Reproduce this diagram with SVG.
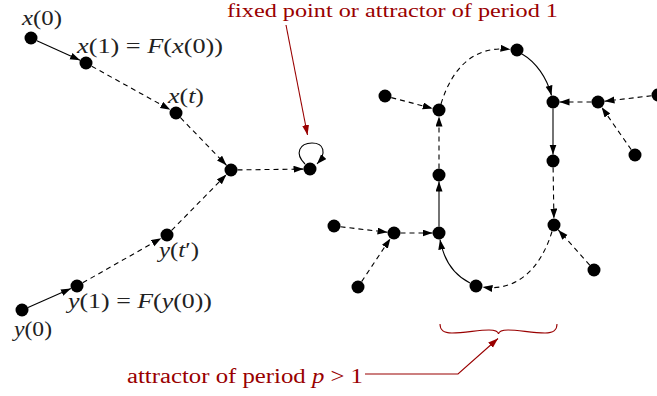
<svg xmlns="http://www.w3.org/2000/svg" width="657" height="396" viewBox="0 0 657 396">
<style>
.n{fill:#000}
.e{fill:none;stroke:#000;stroke-width:1.1;marker-end:url(#ah)}
.d{stroke-dasharray:5 4}
.r{fill:none;stroke:#990000;stroke-width:1.1}
.t{font-family:"Liberation Serif","DejaVu Serif",serif;font-size:20px;fill:#222}
.rt{font-family:"Liberation Serif","DejaVu Serif",serif;font-size:20px;fill:#990000}
.i{font-style:italic}
</style>
<defs>
<marker id="ah" markerUnits="userSpaceOnUse" markerWidth="11" markerHeight="8" refX="10" refY="3.5" orient="auto"><path d="M0,0 L10,3.5 L0,7 z" fill="#000"/></marker>
<marker id="rh" markerUnits="userSpaceOnUse" markerWidth="11" markerHeight="8" refX="10" refY="3.5" orient="auto"><path d="M0,0 L10,3.5 L0,7 z" fill="#990000"/></marker>
</defs>
<g id="connectors">
<path class="e" d="M36.9,40.7 L80.1,60.3"/>
<path class="e d" d="M91.7,66.2 L170.3,109.8"/>
<path class="e d" d="M180.5,117.7 L226.5,165.3"/>
<path class="e d" d="M171.6,230.4 L226.4,174.6"/>
<path class="e" d="M28,307.4 L71,288.6"/>
<path class="e d" d="M82.7,282.8 L161.3,238.2"/>
<path class="e d" d="M237.5,169.9 L303.5,169.1"/>
<path class="e" d="M305,164 C294,153 300,143 312,143 C324,143 327,153 317,164"/>
<path class="e d" d="M391.3,97.6 L432.7,108.4"/>
<path class="e d" d="M439,168.5 L439,116.5"/>
<path class="e" d="M439,226.5 L439,181.5"/>
<path class="e d" d="M441,104 C452,68 474,45 510.5,49.5"/>
<path class="e" d="M522,54 C536,62 547,78 551.5,95.5"/>
<path class="e" d="M553,108.5 L553,154.5"/>
<path class="e d" d="M591.5,102 L559.5,102"/>
<path class="e d" d="M651.5,95.8 L604.5,101.2"/>
<path class="e d" d="M631.3,149.7 L601.7,107.3"/>
<path class="e d" d="M553.1,167.5 L553.9,218.5"/>
<path class="e d" d="M589.7,265.1 L558.3,229.9"/>
<path class="e d" d="M552,231.5 C541,268 517,292 482.5,287"/>
<path class="e" d="M470,283 C456,276 444,262 440,239.5"/>
<path class="e d" d="M340.5,226.8 L387.5,232.2"/>
<path class="e d" d="M361.6,281.6 L390.4,238.4"/>
<path class="e d" d="M400.5,233 L432.5,233"/>
</g>
<g id="left-nodes">
<circle id="x0" class="n" cx="31" cy="38" r="6.5"/>
<circle id="x1" class="n" cx="86" cy="63" r="6.5"/>
<circle id="xt" class="n" cx="176" cy="113" r="6.5"/>
<circle id="junction" class="n" cx="231" cy="170" r="6.5"/>
<circle id="fixed" class="n" cx="310" cy="169" r="6.5"/>
<circle id="yt" class="n" cx="167" cy="235" r="6.5"/>
<circle id="y1" class="n" cx="77" cy="286" r="6.5"/>
<circle id="y0" class="n" cx="22" cy="310" r="6.5"/>
</g>
<g id="right-nodes">
<circle id="r1" class="n" cx="385" cy="96" r="6.5"/>
<circle id="r2" class="n" cx="439" cy="110" r="6.5"/>
<circle id="r3" class="n" cx="517" cy="50" r="6.5"/>
<circle id="r4" class="n" cx="553" cy="102" r="6.5"/>
<circle id="r5" class="n" cx="598" cy="102" r="6.5"/>
<circle id="r6" class="n" cx="658" cy="95" r="6.5"/>
<circle id="r7" class="n" cx="635" cy="155" r="6.5"/>
<circle id="r8" class="n" cx="553" cy="161" r="6.5"/>
<circle id="r9" class="n" cx="439" cy="175" r="6.5"/>
<circle id="r10" class="n" cx="334" cy="226" r="6.5"/>
<circle id="r11" class="n" cx="394" cy="233" r="6.5"/>
<circle id="r12" class="n" cx="439" cy="233" r="6.5"/>
<circle id="r13" class="n" cx="358" cy="287" r="6.5"/>
<circle id="r14" class="n" cx="476" cy="286" r="6.5"/>
<circle id="r15" class="n" cx="554" cy="225" r="6.5"/>
<circle id="r16" class="n" cx="594" cy="270" r="6.5"/>
</g>
<g id="labels">
<text class="t" x="22" y="25" textLength="40" lengthAdjust="spacingAndGlyphs"><tspan class="i">x</tspan>(0)</text>
<text class="t" x="77" y="53" textLength="146" lengthAdjust="spacingAndGlyphs"><tspan class="i">x</tspan>(1) = <tspan class="i">F</tspan>(<tspan class="i">x</tspan>(0))</text>
<text class="t" x="168" y="103" textLength="36" lengthAdjust="spacingAndGlyphs"><tspan class="i">x</tspan>(<tspan class="i">t</tspan>)</text>
<text class="t" x="159" y="257" textLength="40" lengthAdjust="spacingAndGlyphs"><tspan class="i">y</tspan>(<tspan class="i">t</tspan>′)</text>
<text class="t" x="68" y="308" textLength="144" lengthAdjust="spacingAndGlyphs"><tspan class="i">y</tspan>(1) = <tspan class="i">F</tspan>(<tspan class="i">y</tspan>(0))</text>
<text class="t" x="14" y="336" textLength="38" lengthAdjust="spacingAndGlyphs"><tspan class="i">y</tspan>(0)</text>
</g>
<g id="annotation-fixed">
<text class="rt" x="227" y="17" font-size="19" style="font-size:19px" textLength="331" lengthAdjust="spacingAndGlyphs">fixed point or attractor of period 1</text>
<path class="r" d="M286,25 L307.5,135" marker-end="url(#rh)"/>
</g>
<g id="annotation-period">
<text class="rt" x="127" y="383" textLength="236" lengthAdjust="spacingAndGlyphs">attractor of period <tspan class="i">p</tspan> &gt; 1</text>
<path class="r" d="M440,324 C440,330 443,333 452,333 C465,333 478,330 489,330 C495,330 498,331 498.5,334 C499,331 502,330 508,330 C519,330 532,333 545,333 C554,333 557,330 557,324"/>
<path class="r" d="M365,374 L458,374 L498,338.5" marker-end="url(#rh)"/>
</g>
</svg>
